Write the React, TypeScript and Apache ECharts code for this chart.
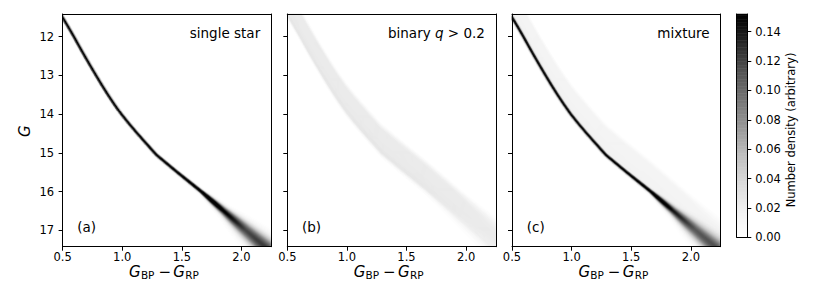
import React, { useEffect, useRef } from "react";
import * as echarts from "echarts";

// ---------------- data ----------------
const xRange = [0.5, 2.25];
const yRange = [11.415, 17.42];
const xTicks = [0.5, 1.0, 1.5, 2.0];
const yTicks = [12, 13, 14, 15, 16, 17];
const cbTicks = [0, 0.02, 0.04, 0.06, 0.08, 0.1, 0.12, 0.14];
const cbMax = 0.152;

const panelNames = ["single star", "binary", "mixture"];
const panelTags = ["(a)", "(b)", "(c)"];

// single-star sequence ridge (colour, G), its spread and peak density
const ridgeG = [11.4, 11.75, 12.0, 12.25, 12.5, 12.75, 13.0, 13.25, 13.5, 13.75, 14.0, 14.25, 14.5, 14.75, 15.06, 15.5, 16.0, 16.5, 17.0, 17.45];
const ridgeColor = [0.48, 0.548, 0.595, 0.64, 0.686, 0.733, 0.781, 0.83, 0.881, 0.935, 0.992, 1.057, 1.126, 1.198, 1.288, 1.46, 1.662, 1.85, 2.035, 2.205];
const ridgeSigma = [0.0068, 0.0068, 0.0068, 0.0068, 0.0068, 0.0068, 0.0068, 0.0068, 0.0068, 0.0068, 0.0068, 0.0068, 0.0068, 0.007, 0.0072, 0.0075, 0.009, 0.022, 0.042, 0.055];
const ridgePeak = [0.3, 0.3, 0.3, 0.3, 0.3, 0.3, 0.3, 0.3, 0.3, 0.3, 0.3, 0.3, 0.3, 0.3, 0.3, 0.3, 0.28, 0.16, 0.12, 0.125];

// binary band: offset (mag, brighter than single sequence) and its density level
const bandDelta = [0, 0.04, 0.1, 0.2, 0.5, 0.75];
const bandLevel = [0.034, 0.036, 0.028, 0.024, 0.023, 0.024];
const bandLimits = [0.02, 0.75];
const bandSoftG = [11.4, 15.0, 16.0, 16.5, 17.0, 17.45];
const bandSoft = [0.045, 0.05, 0.06, 0.09, 0.13, 0.16];

// mixture weights: single, binary
const mixWeights = [0.85, 0.62];

const greys = ["#ffffff", "#f0f0f0", "#d9d9d9", "#bdbdbd", "#969696", "#737373", "#525252", "#252525", "#000000"];

// ---------------- layout ----------------
const FONT = "DejaVu Sans";
const GRID_LEFTS = [62.6, 287.3, 512.0];
const GRID_TOP = 14;
const GRID_W = 208.6;
const GRID_H = 232.7;
const NX = 209;
const NY = 233;
const CB = { left: 736.7, top: 14, width: 10.6, height: 223.3 };
const NC = 160;

// ---------------- helpers ----------------
function interp(xs: number[], ys: number[], x: number) {
  if (x <= xs[0]) return ys[0];
  const n = xs.length;
  if (x >= xs[n - 1]) return ys[n - 1];
  let i = 0;
  while (x > xs[i + 1]) i++;
  const t = (x - xs[i]) / (xs[i + 1] - xs[i]);
  return ys[i] + t * (ys[i + 1] - ys[i]);
}

function ridgeGAt(c: number) {
  const n = ridgeColor.length;
  let i = 0;
  if (c <= ridgeColor[0]) i = 0;
  else if (c >= ridgeColor[n - 1]) i = n - 2;
  else while (c > ridgeColor[i + 1]) i++;
  const t = (c - ridgeColor[i]) / (ridgeColor[i + 1] - ridgeColor[i]);
  return ridgeG[i] + t * (ridgeG[i + 1] - ridgeG[i]);
}

function erf(x: number) {
  const s = Math.sign(x);
  const a = Math.abs(x);
  const t = 1 / (1 + 0.3275911 * a);
  const y =
    1 -
    ((((1.061405429 * t - 1.453152027) * t + 1.421413741) * t - 0.284496736) * t + 0.254829592) *
      t *
      Math.exp(-a * a);
  return s * y;
}
const Phi = (z: number) => 0.5 * (1 + erf(z / Math.SQRT2));

const KX = GRID_W / (xRange[1] - xRange[0]);
const KY = GRID_H / (yRange[1] - yRange[0]);

function singleDensity(c: number, g: number) {
  const px = c * KX;
  const py = g * KY;
  let best = Infinity;
  let bi = 0;
  let bt = 0;
  for (let i = 0; i < ridgeG.length - 1; i++) {
    const ax = ridgeColor[i] * KX;
    const ay = ridgeG[i] * KY;
    const bx = ridgeColor[i + 1] * KX;
    const by = ridgeG[i + 1] * KY;
    const dx = bx - ax;
    const dy = by - ay;
    let t = ((px - ax) * dx + (py - ay) * dy) / (dx * dx + dy * dy);
    t = Math.max(0, Math.min(1, t));
    const ex = ax + t * dx - px;
    const ey = ay + t * dy - py;
    const d2 = ex * ex + ey * ey;
    if (d2 < best) {
      best = d2;
      bi = i;
      bt = t;
    }
  }
  const sig = (ridgeSigma[bi] + bt * (ridgeSigma[bi + 1] - ridgeSigma[bi])) * KX;
  const peak = ridgePeak[bi] + bt * (ridgePeak[bi + 1] - ridgePeak[bi]);
  return peak * Math.exp(-best / (2 * sig * sig));
}

function binaryDensity(c: number, g: number) {
  const d = ridgeGAt(c) - g;
  const s = interp(bandSoftG, bandSoft, g);
  const lvl = interp(bandDelta, bandLevel, d);
  return lvl * (Phi((d - bandLimits[0]) / s) - Phi((d - bandLimits[1]) / s));
}

function buildPanel(kind: number) {
  const out: number[][] = [];
  const dc = (xRange[1] - xRange[0]) / NX;
  const dg = (yRange[1] - yRange[0]) / NY;
  for (let j = 0; j < NY; j++) {
    const g = yRange[0] + (j + 0.5) * dg;
    for (let i = 0; i < NX; i++) {
      const c = xRange[0] + (i + 0.5) * dc;
      let v = 0;
      if (kind === 0) v = singleDensity(c, g);
      else if (kind === 1) v = binaryDensity(c, g);
      else v = mixWeights[0] * singleDensity(c, g) + mixWeights[1] * binaryDensity(c, g);
      if (v > 0.0015) out.push([i, j, Math.min(v, cbMax)]);
    }
  }
  return out;
}

// ---------------- component ----------------
export default function App() {
  const ref = useRef<HTMLDivElement>(null);

  useEffect(() => {
    if (!ref.current) return;
    const chart = echarts.init(ref.current, undefined, { renderer: "svg" });

    const xIdx = Array.from({ length: NX }, (_, i) => i);
    const yIdx = Array.from({ length: NY }, (_, i) => i);
    const cIdx = Array.from({ length: NC }, (_, i) => i);
    const line = { show: true, onZero: false, lineStyle: { color: "#000", width: 1 } };
    const labelBase = { color: "#000", fontSize: 11.5, fontFamily: FONT };

    const grids: any[] = GRID_LEFTS.map((l) => ({ left: l, top: GRID_TOP, width: GRID_W, height: GRID_H }));
    grids.push({ left: CB.left, top: CB.top, width: CB.width, height: CB.height });

    const xAxes: any[] = [];
    const yAxes: any[] = [];
    GRID_LEFTS.forEach((_, p) => {
      xAxes.push({
        type: "value",
        gridIndex: p,
        position: "bottom",
        min: xRange[0],
        max: xRange[1],
        axisLine: line,
        axisTick: { show: true, length: 4, lineStyle: { color: "#000", width: 1 }, customValues: xTicks },
        axisLabel: { ...labelBase, margin: 4, customValues: xTicks, formatter: (v: number) => v.toFixed(1) },
        splitLine: { show: false },
        z: 5,
      });
      yAxes.push({
        type: "value",
        gridIndex: p,
        position: "left",
        inverse: true,
        min: yRange[0],
        max: yRange[1],
        axisLine: line,
        axisTick: { show: true, length: 4, lineStyle: { color: "#000", width: 1 }, customValues: yTicks },
        axisLabel: { ...labelBase, show: p === 0, margin: 8.5, customValues: yTicks, formatter: (v: number) => String(v) },
        splitLine: { show: false },
        z: 5,
      });
    });
    GRID_LEFTS.forEach((_, p) => {
      xAxes.push({
        type: "category",
        gridIndex: p,
        position: "top",
        data: xIdx,
        axisLine: line,
        axisTick: { show: false },
        axisLabel: { show: false },
        splitLine: { show: false },
        z: 5,
      });
      yAxes.push({
        type: "category",
        gridIndex: p,
        position: "right",
        inverse: true,
        data: yIdx,
        axisLine: line,
        axisTick: { show: false },
        axisLabel: { show: false },
        splitLine: { show: false },
        z: 5,
      });
    });
    // colorbar axes
    xAxes.push({ type: "category", gridIndex: 3, position: "bottom", data: ["c"], axisLine: line, axisTick: { show: false }, axisLabel: { show: false }, z: 5 });
    xAxes.push({ type: "category", gridIndex: 3, position: "top", data: ["c"], axisLine: line, axisTick: { show: false }, axisLabel: { show: false }, z: 5 });
    yAxes.push({ type: "category", gridIndex: 3, position: "left", data: cIdx, axisLine: line, axisTick: { show: false }, axisLabel: { show: false }, z: 5 });
    yAxes.push({
      type: "value",
      gridIndex: 3,
      position: "right",
      min: 0,
      max: cbMax,
      axisLine: line,
      axisTick: { show: true, length: 4, lineStyle: { color: "#000", width: 1 }, customValues: cbTicks },
      axisLabel: { ...labelBase, margin: 8, customValues: cbTicks, formatter: (v: number) => v.toFixed(2) },
      splitLine: { show: false },
      z: 5,
    });

    const series: any[] = [0, 1, 2].map((p) => ({
      type: "heatmap",
      xAxisIndex: 3 + p,
      yAxisIndex: 3 + p,
      data: buildPanel(p),
      progressive: 0,
      silent: true,
      emphasis: { disabled: true },
      itemStyle: { borderWidth: 0 },
    }));
    series.push({
      type: "heatmap",
      xAxisIndex: 6,
      yAxisIndex: 6,
      data: cIdx.map((k) => [0, k, ((k + 0.5) * cbMax) / NC]),
      progressive: 0,
      silent: true,
      emphasis: { disabled: true },
      itemStyle: { borderWidth: 0 },
    });

    const txt = (x: number, y: number, text: string, extra: any = {}, styleExtra: any = {}) => ({
      type: "text",
      x,
      y,
      silent: true,
      z: 10,
      ...extra,
      style: {
        text,
        fill: "#000",
        fontFamily: FONT,
        fontSize: 13.5,
        textAlign: "left",
        align: "left",
        textVerticalAlign: "middle",
        verticalAlign: "middle",
        ...styleExtra,
      },
    });

    const graphics: any[] = [];
    GRID_LEFTS.forEach((l, p) => {
      const right = l + GRID_W - 11;
      if (p === 1) {
        graphics.push(
          txt(right, 33, "{n|binary }{i|q}{n| > 0.2}", {}, {
            textAlign: "right",
            align: "right",
            rich: {
              n: { fontFamily: FONT, fontSize: 13.5, fill: "#000" },
              i: { fontFamily: FONT, fontSize: 13.5, fontStyle: "italic", fill: "#000" },
            },
          })
        );
      } else {
        graphics.push(txt(right, 33, panelNames[p], {}, { textAlign: "right", align: "right" }));
      }
      graphics.push(txt(l + 14.7, 227, panelTags[p]));
      const cx = l + GRID_W / 2;
      graphics.push(txt(cx - 37.9, 272, "G", {}, { fontSize: 15, fontStyle: "italic" }));
      graphics.push(txt(cx - 26.0, 274.5, "BP", {}, { fontSize: 10.5 }));
      graphics.push(txt(cx - 2.2, 272, "\u2212", {}, { fontSize: 15, textAlign: "center", align: "center" }));
      graphics.push(txt(cx + 6.4, 272, "G", {}, { fontSize: 15, fontStyle: "italic" }));
      graphics.push(txt(cx + 18.4, 274.5, "RP", {}, { fontSize: 10.5 }));
    });
    graphics.push(
      txt(25, 131.3, "G", { rotation: Math.PI / 2 }, { fontSize: 15, fontStyle: "italic", textAlign: "center", align: "center" })
    );
    graphics.push(
      txt(790.5, 130, "Number density (arbitrary)", { rotation: Math.PI / 2 }, { fontSize: 11.5, textAlign: "center", align: "center" })
    );

    chart.setOption({
      animation: false,
      backgroundColor: "#ffffff",
      grid: grids,
      xAxis: xAxes,
      yAxis: yAxes,
      visualMap: {
        type: "continuous",
        show: false,
        min: 0,
        max: cbMax,
        dimension: 2,
        seriesIndex: [0, 1, 2, 3],
        inRange: { color: greys },
      },
      series,
      graphic: { elements: graphics },
    });

    return () => chart.dispose();
  }, []);

  return (
    <div
      ref={ref}
      style={{ position: "absolute", left: 0, top: 0, width: 830, height: 291, background: "#fff" }}
    />
  );
}
